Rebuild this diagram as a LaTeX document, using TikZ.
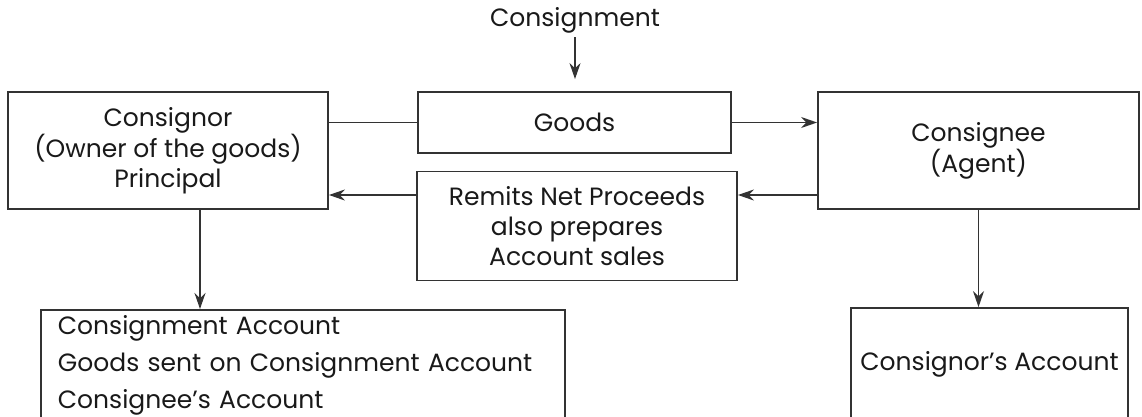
\documentclass[tikz,border=0pt]{standalone}
\usepackage{fontspec}
\setmainfont{Poppins}
\usetikzlibrary{arrows.meta}

\begin{document}
\begin{tikzpicture}[x = 1pt, y = -1pt, > = {Stealth[length = 16pt, width = 11pt]}, line width = 1.8pt, color = black!80,
	every node/.style = {font = \fontsize{25}{30}\selectfont, text = black!90},
	box/.style = {draw, rectangle, inner sep = 0pt, align = center}]

	\useasboundingbox (0, 0) rectangle (1142, 417);

	\node (consignment) at (575, 20) {Consignment};

	\node [box, minimum width = 320pt, minimum height = 117pt] (consignor) at (168, 150.5) {Consignor\\(Owner of the goods)\\Principal};

	\node [box, minimum width = 313pt, minimum height = 61pt] (goods) at (574.5, 122.5) {Goods};

	\node [box, minimum width = 321pt, minimum height = 117pt] (consignee) at (978.5, 150.5) {Consignee\\(Agent)};

	\node [box, minimum width = 320pt, minimum height = 109pt] (remits) at (577, 226) {Remits Net Proceeds\\also prepares\\Account sales};

	\node [box, anchor = north west, text width = 490pt, minimum height = 110pt, align = left, inner xsep = 17pt, font = \fontsize{25}{37}\selectfont] (accounts) at (40, 309) {Consignment Account\\Goods sent on Consignment Account\\Consignee’s Account};

	\node [box, minimum width = 277pt, minimum height = 112pt] (ledger) at (989.5, 364) {Consignor’s Account};

	\coordinate (ret) at ([yshift = -44.5pt] consignee.west);

	\draw [->, shorten > = 12pt] (consignment) -- (consignment |- goods.north);

	\draw (goods.west -| consignor.east) -- (goods.west);

	\draw [->] (goods.east) -- (goods.east -| consignee.west);

	\draw [->] (ret) -- (ret -| remits.east);

	\draw [->] (ret -| remits.west) -- (ret -| consignor.east);

	\draw [->] ([xshift = 32pt] consignor.south) -- ([xshift = 32pt] consignor.south |- accounts.north);

	\draw [->] (consignee.south) -- (consignee.south |- ledger.north);

\end{tikzpicture}
\end{document}
